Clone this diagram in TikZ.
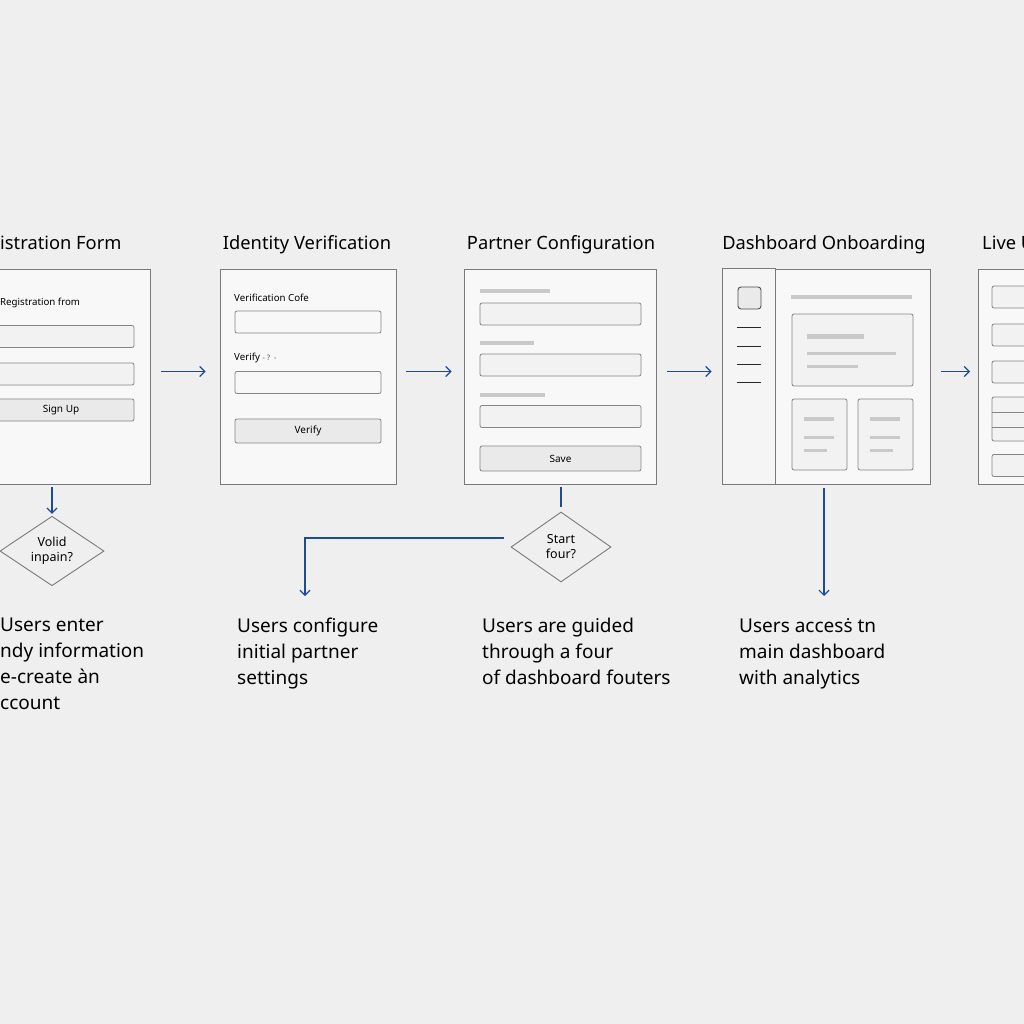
\documentclass[tikz,border=0pt]{standalone}
\usepackage{fontspec}
\setmainfont{Noto Sans}
\usetikzlibrary{positioning,shapes.geometric,arrows.meta}
\definecolor{flowBlue}{HTML}{1F4A96}
\definecolor{pageGray}{HTML}{EFEFEF}
\definecolor{panelFill}{HTML}{F8F8F8}
\definecolor{panelLine}{HTML}{7A7A7A}
\definecolor{fieldLine}{HTML}{858585}
\definecolor{fieldFill}{HTML}{F2F2F2}
\definecolor{btnFill}{HTML}{EAEAEA}
\definecolor{barGray}{HTML}{C9C9C9}
\tikzset{
  panel/.style={draw=panelLine, fill=panelFill, line width=0.9pt, minimum height=215pt, inner sep=0pt},
  field/.style={draw=fieldLine, fill=fieldFill, rounded corners=2pt, line width=0.8pt, minimum height=22pt, inner sep=0pt},
  button/.style={field, fill=btnFill, font=\fontsize{10}{12}\selectfont},
  flow/.style={draw=flowBlue, line width=1.2pt, -{Straight Barb[length=5pt,width=10pt]}},
  title/.style={font=\fontsize{18.3}{21}\selectfont, anchor=base, inner sep=0pt},
  tiny/.style={font=\fontsize{9.7}{12}\selectfont, anchor=west, inner sep=0pt},
  desc/.style={font=\fontsize{19}{26}\selectfont, align=left, anchor=north west, inner sep=0pt},
  choice/.style={diamond, draw=panelLine, fill=pageGray, line width=0.9pt, minimum width=104pt, minimum height=68pt, inner sep=0pt, align=center, font=\fontsize{12.5}{15}\selectfont},
  bar/.style={fill=barGray}
}
\begin{document}
\begin{tikzpicture}[x=1pt,y=-1pt]
\fill[pageGray] (0,0) rectangle (1024,1024);
\useasboundingbox (0,0) rectangle (1024,1024);
%the panels
\node [panel, minimum width=176pt] (panReg) at (62,376.5) {};
\node [panel, minimum width=176pt] (panId) at (308,376.5) {};
\node [panel, minimum width=192pt] (panPartner) at (560,376.5) {};
\node [panel, minimum width=207pt] (panDash) at (826.5,376.5) {};
\node [panel, minimum width=176pt] (panLive) at (1066,376.5) {};
%titles
\node [title, anchor=base west] (titReg) at (0,249) {istration Form};
\node [title] (titId) at (307,249) {Identity Verification};
\node [title] (titPartner) at (561,249) {Partner Configuration};
\node [title] (titDash) at (824,249) {Dashboard Onboarding};
\node [title, anchor=base west] (titLive) at (982,249) {Live U};
%registration form
\node [tiny] (regLabel) at (0,303) {Registration from};
\node [field, minimum width=146pt] (regFieldA) at (61,336.5) {};
\node [field, minimum width=146pt] (regFieldB) at (61,374) {};
\node [button, minimum width=146pt] (regSign) at (61,410) {Sign Up};
%identity verification
\node [tiny] (idLabelA) at (234,298) {Verification Cofe};
\node [field, fill=panelFill, minimum width=146pt] (idFieldA) at (308,322) {};
\node [tiny] (idLabelB) at (234,358) {Verify {\fontsize{7.5}{8}\selectfont\color{black!70} - ? \,-}};
\node [field, fill=panelFill, minimum width=146pt] (idFieldB) at (308,382.5) {};
\node [button, minimum width=146pt, minimum height=24pt] (idVerify) at (308,431) {Verify};
%partner configuration
\fill [bar] (480,289) rectangle (550,293);
\node [field, minimum width=161pt] (ptFieldA) at (560.5,314) {};
\fill [bar] (480,341) rectangle (534,345);
\node [field, minimum width=161pt] (ptFieldB) at (560.5,365) {};
\fill [bar] (480,393) rectangle (545,397);
\node [field, minimum width=161pt] (ptFieldC) at (560.5,416.5) {};
\node [button, minimum width=161pt, minimum height=25pt] (ptSave) at (560.5,458.5) {Save};
%dashboard onboarding
\draw [panelLine, fill=black!4, line width=0.9pt] (panDash.north west) rectangle (775,484);
\draw [black!70, fill=btnFill, line width=0.9pt, rounded corners=3pt] (738,287) rectangle (761,309);
\foreach \ly in {327,346,364,382}
  \draw [black!85, line width=0.9pt] (737,\ly) -- (761,\ly);
\fill [bar] (791,295) rectangle (912,299);
\draw [fieldLine, fill=black!5, line width=0.8pt, rounded corners=2pt] (792,314) rectangle (913,386);
\fill [bar] (807,334) rectangle (864,339);
\fill [bar] (807,352) rectangle (896,355);
\fill [bar] (807,365) rectangle (858,368);
\foreach \cx in {792,858} {
  \draw [fieldLine, fill=black!5, line width=0.8pt, rounded corners=2pt] (\cx,399) rectangle (\cx+55,470);
  \fill [bar] (\cx+12,417) rectangle (\cx+42,421);
  \fill [bar] (\cx+12,436) rectangle (\cx+42,439);
  \fill [bar] (\cx+12,449) rectangle (\cx+35,452);
}
%live
\node [field, minimum width=146pt] (liveFieldA) at (1065,297) {};
\node [field, minimum width=146pt] (liveFieldB) at (1065,335) {};
\node [field, minimum width=146pt] (liveFieldC) at (1065,372) {};
\node [field, minimum width=146pt, minimum height=44pt] (liveGroup) at (1065,419) {};
\draw [fieldLine, line width=0.8pt] (liveGroup.west |- 0,412) -- (liveGroup.east |- 0,412);
\draw [fieldLine, line width=0.8pt] (liveGroup.west |- 0,427) -- (liveGroup.east |- 0,427);
\node [field, minimum width=146pt] (liveFieldD) at (1065,465.5) {};
%decisions
\node [choice] (choValid) at (52,551) {Volid\\inpain?};
\node [choice, minimum width=100pt, minimum height=70pt] (choTour) at (561,547) {Start\\four?};
%descriptions
\node [desc] (txtReg) at (0,618) {Users enter\\ndy information\\e-create àn\\ccount};
\node [desc] (txtConfig) at (237,618) {Users configure\\initial partner\\settings};
\node [desc] (txtTour) at (482,618) {Users are guided\\through a four\\of dashboard fouters};
\node [desc] (txtDash) at (739,618) {Users accesṡ tn\\main dashboard\\with analytics};
\coordinate (cfgIn) at (305,596);
\coordinate (dashIn) at (824,596);
%drawings of lines
\draw [flow, shorten <=11pt, shorten >=14pt] ([yshift=5pt]panReg.east) -- ([yshift=5pt]panId.west);
\draw [flow, shorten <=10pt, shorten >=12pt] ([yshift=5pt]panId.east) -- ([yshift=5pt]panPartner.west);
\draw [flow, shorten <=11pt, shorten >=11pt] ([yshift=5pt]panPartner.east) -- ([yshift=5pt]panDash.west);
\draw [flow, shorten <=11pt, shorten >=8pt] ([yshift=5pt]panDash.east) -- ([yshift=5pt]panLive.west -| 978,0);
\draw [flow, shorten >=2pt] ([yshift=-3pt]panReg.south -| choValid.north) -- (choValid.north);
\draw [flowBlue, line width=1.2pt, shorten <=3pt, shorten >=5pt] (panPartner.south -| choTour.north) -- (choTour.north);
\draw [flow] ([shift={(-7pt,9pt)}]choTour.west) -| (cfgIn);
\draw [flow] ([yshift=-4pt]panDash.south -| dashIn) -- (dashIn);
\end{tikzpicture}
\end{document}
